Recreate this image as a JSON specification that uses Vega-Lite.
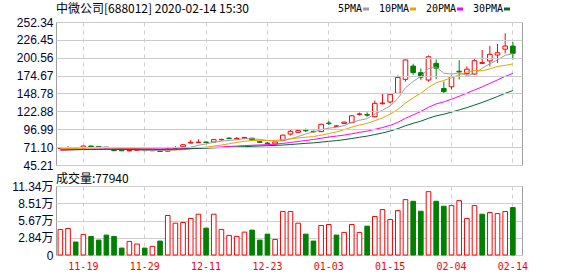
{
  "$schema": "https://vega.github.io/schema/vega-lite/v6.json",
  "autosize": {"type": "none"},
  "padding": {"left": 56, "top": 22, "right": 56, "bottom": 254},
  "background": "#ffffff",
  "spacing": 21,
  "bounds": "flush",
  "config": {
    "view": {"stroke": "#a0a0a0", "strokeWidth": 1},
    "axis": {"labelFont": "Liberation Sans, Noto Sans CJK SC", "labelFontSize": 12, "labelColor": "#000033", "domain": false, "ticks": false, "gridColor": "#cfcfcf", "gridWidth": 1, "labelOverlap": false}
  },
  "data": {"values": [
    {"d":"11-14","o":69.0,"h":70.8,"l":68.2,"c":69.6,"v":42000,"dir":"up","vdir":"up","5PMA":69.5,"10PMA":69.0,"20PMA":66.5,"30PMA":67.2},
    {"d":"11-15","o":69.2,"h":72.5,"l":68.8,"c":69.8,"v":43600,"dir":"up","vdir":"up","5PMA":69.6,"10PMA":69.2,"20PMA":67.0,"30PMA":67.3},
    {"d":"11-18","o":70.0,"h":71.0,"l":68.8,"c":69.3,"v":21300,"dir":"down","vdir":"down","5PMA":69.5,"10PMA":69.3,"20PMA":67.4,"30PMA":67.4},
    {"d":"11-19","o":69.8,"h":73.0,"l":69.5,"c":72.7,"v":33800,"dir":"up","vdir":"up","5PMA":70.2,"10PMA":69.5,"20PMA":67.8,"30PMA":67.5},
    {"d":"11-20","o":72.7,"h":73.2,"l":71.0,"c":71.5,"v":30500,"dir":"down","vdir":"down","5PMA":70.58,"10PMA":69.7,"20PMA":68.0,"30PMA":67.6},
    {"d":"11-21","o":72.0,"h":72.5,"l":71.0,"c":71.4,"v":24500,"dir":"down","vdir":"down","5PMA":70.94,"10PMA":69.9,"20PMA":68.2,"30PMA":67.7},
    {"d":"11-22","o":71.0,"h":71.5,"l":69.5,"c":70.0,"v":32700,"dir":"down","vdir":"down","5PMA":70.98,"10PMA":70.0,"20PMA":68.3,"30PMA":67.8},
    {"d":"11-25","o":67.2,"h":67.5,"l":65.5,"c":66.0,"v":30500,"dir":"down","vdir":"down","5PMA":70.32,"10PMA":69.8,"20PMA":68.3,"30PMA":67.8},
    {"d":"11-26","o":66.6,"h":67.0,"l":65.5,"c":65.8,"v":11400,"dir":"down","vdir":"down","5PMA":68.94,"10PMA":69.5,"20PMA":68.3,"30PMA":67.8},
    {"d":"11-27","o":65.6,"h":66.8,"l":65.2,"c":66.4,"v":22300,"dir":"up","vdir":"up","5PMA":67.92,"10PMA":69.25,"20PMA":68.3,"30PMA":67.8},
    {"d":"11-28","o":66.2,"h":67.2,"l":65.8,"c":66.8,"v":18000,"dir":"up","vdir":"up","5PMA":67.0,"10PMA":68.97,"20PMA":68.3,"30PMA":67.8},
    {"d":"11-29","o":66.8,"h":67.0,"l":65.8,"c":66.0,"v":11400,"dir":"down","vdir":"down","5PMA":66.2,"10PMA":68.59,"20PMA":68.3,"30PMA":67.8},
    {"d":"12-02","o":65.8,"h":66.8,"l":65.5,"c":66.3,"v":14200,"dir":"up","vdir":"up","5PMA":66.26,"10PMA":68.29,"20PMA":68.4,"30PMA":67.8},
    {"d":"12-03","o":65.8,"h":66.0,"l":64.0,"c":64.8,"v":22900,"dir":"down","vdir":"down","5PMA":66.06,"10PMA":67.5,"20PMA":68.4,"30PMA":67.8},
    {"d":"12-04","o":65.2,"h":71.5,"l":64.8,"c":68.0,"v":64900,"dir":"up","vdir":"up","5PMA":66.38,"10PMA":67.15,"20PMA":68.5,"30PMA":67.9},
    {"d":"12-05","o":69.6,"h":72.5,"l":68.0,"c":70.2,"v":52300,"dir":"up","vdir":"up","5PMA":67.06,"10PMA":67.03,"20PMA":68.6,"30PMA":68.1},
    {"d":"12-06","o":71.7,"h":75.0,"l":71.5,"c":74.6,"v":53400,"dir":"up","vdir":"up","5PMA":68.78,"10PMA":67.49,"20PMA":68.9,"30PMA":68.4},
    {"d":"12-09","o":77.0,"h":81.4,"l":76.6,"c":78.0,"v":60000,"dir":"up","vdir":"up","5PMA":71.12,"10PMA":68.69,"20PMA":69.3,"30PMA":68.8},
    {"d":"12-10","o":77.6,"h":82.4,"l":77.0,"c":78.2,"v":67000,"dir":"up","vdir":"up","5PMA":73.8,"10PMA":69.93,"20PMA":69.7,"30PMA":69.2},
    {"d":"12-11","o":78.5,"h":79.0,"l":77.0,"c":77.8,"v":44100,"dir":"down","vdir":"down","5PMA":75.76,"10PMA":71.07,"20PMA":70.16,"30PMA":69.6},
    {"d":"12-12","o":78.5,"h":83.0,"l":78.0,"c":82.0,"v":67000,"dir":"up","vdir":"up","5PMA":78.12,"10PMA":72.59,"20PMA":70.78,"30PMA":70.0},
    {"d":"12-13","o":81.8,"h":83.2,"l":80.5,"c":82.3,"v":42000,"dir":"up","vdir":"up","5PMA":79.66,"10PMA":74.22,"20PMA":71.41,"30PMA":70.4},
    {"d":"12-16","o":84.2,"h":85.0,"l":82.8,"c":83.6,"v":32200,"dir":"down","vdir":"up","5PMA":80.78,"10PMA":75.95,"20PMA":72.12,"30PMA":70.8},
    {"d":"12-17","o":83.2,"h":85.5,"l":82.0,"c":83.8,"v":30500,"dir":"up","vdir":"up","5PMA":81.9,"10PMA":77.85,"20PMA":72.68,"30PMA":71.3},
    {"d":"12-18","o":83.9,"h":85.8,"l":83.5,"c":85.2,"v":37600,"dir":"up","vdir":"up","5PMA":83.38,"10PMA":79.57,"20PMA":73.36,"30PMA":71.8},
    {"d":"12-19","o":84.0,"h":84.5,"l":80.5,"c":80.8,"v":40900,"dir":"down","vdir":"down","5PMA":83.14,"10PMA":80.63,"20PMA":73.83,"30PMA":72.3},
    {"d":"12-20","o":79.0,"h":79.5,"l":77.0,"c":78.0,"v":24500,"dir":"down","vdir":"down","5PMA":82.28,"10PMA":80.97,"20PMA":74.23,"30PMA":72.8},
    {"d":"12-23","o":77.0,"h":78.5,"l":75.5,"c":76.2,"v":34300,"dir":"down","vdir":"down","5PMA":80.8,"10PMA":80.79,"20PMA":74.74,"30PMA":73.2},
    {"d":"12-24","o":75.6,"h":79.0,"l":75.3,"c":78.5,"v":25600,"dir":"up","vdir":"up","5PMA":79.74,"10PMA":80.82,"20PMA":75.38,"30PMA":73.6},
    {"d":"12-25","o":80.5,"h":89.0,"l":80.0,"c":88.5,"v":71400,"dir":"up","vdir":"up","5PMA":80.4,"10PMA":81.89,"20PMA":76.48,"30PMA":74.07},
    {"d":"12-26","o":90.0,"h":96.0,"l":88.0,"c":94.0,"v":71400,"dir":"up","vdir":"up","5PMA":83.04,"10PMA":83.09,"20PMA":77.84,"30PMA":74.88},
    {"d":"12-27","o":92.5,"h":96.0,"l":92.0,"c":95.0,"v":52300,"dir":"up","vdir":"up","5PMA":86.44,"10PMA":84.36,"20PMA":79.29,"30PMA":75.72},
    {"d":"12-30","o":95.5,"h":98.0,"l":93.0,"c":94.8,"v":34300,"dir":"down","vdir":"down","5PMA":90.16,"10PMA":85.48,"20PMA":80.72,"30PMA":76.57},
    {"d":"12-31","o":94.0,"h":95.0,"l":92.0,"c":93.3,"v":22900,"dir":"down","vdir":"down","5PMA":93.12,"10PMA":86.43,"20PMA":82.14,"30PMA":77.26},
    {"d":"01-02","o":93.5,"h":105.0,"l":93.0,"c":104.2,"v":48500,"dir":"up","vdir":"up","5PMA":96.26,"10PMA":88.33,"20PMA":83.95,"30PMA":78.35},
    {"d":"01-03","o":106.0,"h":109.0,"l":103.0,"c":105.2,"v":50100,"dir":"down","vdir":"up","5PMA":98.5,"10PMA":90.77,"20PMA":85.7,"30PMA":79.48},
    {"d":"01-06","o":101.3,"h":103.0,"l":100.5,"c":101.8,"v":32700,"dir":"up","vdir":"down","5PMA":99.86,"10PMA":93.15,"20PMA":87.06,"30PMA":80.54},
    {"d":"01-07","o":105.5,"h":108.0,"l":105.0,"c":107.3,"v":37100,"dir":"up","vdir":"up","5PMA":102.36,"10PMA":96.26,"20PMA":88.53,"30PMA":81.91},
    {"d":"01-08","o":106.5,"h":117.5,"l":106.0,"c":116.5,"v":50100,"dir":"up","vdir":"up","5PMA":107.0,"10PMA":100.06,"20PMA":90.44,"30PMA":83.6},
    {"d":"01-09","o":118.5,"h":121.0,"l":117.0,"c":119.2,"v":37100,"dir":"up","vdir":"up","5PMA":110.0,"10PMA":103.13,"20PMA":92.51,"30PMA":85.36},
    {"d":"01-10","o":118.2,"h":121.5,"l":115.0,"c":117.4,"v":47400,"dir":"down","vdir":"down","5PMA":112.44,"10PMA":105.47,"20PMA":94.28,"30PMA":87.05},
    {"d":"01-13","o":115.2,"h":138.5,"l":114.5,"c":134.5,"v":63200,"dir":"up","vdir":"up","5PMA":118.98,"10PMA":109.42,"20PMA":96.89,"30PMA":89.33},
    {"d":"01-14","o":134.0,"h":149.0,"l":133.0,"c":135.0,"v":74700,"dir":"up","vdir":"up","5PMA":124.52,"10PMA":113.44,"20PMA":99.46,"30PMA":91.62},
    {"d":"01-15","o":136.5,"h":148.5,"l":135.0,"c":147.6,"v":58300,"dir":"up","vdir":"up","5PMA":130.74,"10PMA":118.87,"20PMA":102.65,"30PMA":94.38},
    {"d":"01-16","o":149.0,"h":175.0,"l":148.0,"c":172.0,"v":73000,"dir":"up","vdir":"up","5PMA":141.3,"10PMA":125.65,"20PMA":106.99,"30PMA":97.85},
    {"d":"01-17","o":169.3,"h":198.0,"l":166.0,"c":197.3,"v":91000,"dir":"up","vdir":"up","5PMA":157.28,"10PMA":134.86,"20PMA":112.82,"30PMA":102.09},
    {"d":"01-20","o":188.5,"h":192.0,"l":176.0,"c":179.0,"v":88300,"dir":"down","vdir":"down","5PMA":166.18,"10PMA":142.58,"20PMA":117.87,"30PMA":105.57},
    {"d":"01-21","o":179.0,"h":185.0,"l":168.0,"c":172.4,"v":71900,"dir":"down","vdir":"down","5PMA":173.66,"10PMA":149.09,"20PMA":122.68,"30PMA":108.71},
    {"d":"01-22","o":168.3,"h":204.0,"l":166.0,"c":202.0,"v":104100,"dir":"up","vdir":"up","5PMA":184.54,"10PMA":157.64,"20PMA":128.85,"30PMA":112.84},
    {"d":"01-23","o":192.5,"h":198.0,"l":169.5,"c":185.5,"v":88300,"dir":"down","vdir":"down","5PMA":187.24,"10PMA":164.27,"20PMA":133.7,"30PMA":116.43},
    {"d":"02-03","o":156.0,"h":166.0,"l":148.0,"c":151.5,"v":80100,"dir":"down","vdir":"down","5PMA":178.08,"10PMA":167.68,"20PMA":136.58,"30PMA":118.75},
    {"d":"02-04","o":158.5,"h":175.0,"l":155.0,"c":173.5,"v":81200,"dir":"up","vdir":"up","5PMA":176.98,"10PMA":171.58,"20PMA":140.5,"30PMA":121.79},
    {"d":"02-05","o":181.0,"h":197.0,"l":169.0,"c":180.0,"v":89400,"dir":"down","vdir":"up","5PMA":178.5,"10PMA":176.08,"20PMA":144.76,"30PMA":125.0},
    {"d":"02-06","o":177.5,"h":188.0,"l":176.0,"c":184.0,"v":60000,"dir":"up","vdir":"up","5PMA":174.9,"10PMA":179.72,"20PMA":149.3,"30PMA":128.34},
    {"d":"02-07","o":177.0,"h":198.5,"l":176.0,"c":196.3,"v":81200,"dir":"up","vdir":"up","5PMA":177.06,"10PMA":182.15,"20PMA":153.9,"30PMA":132.04},
    {"d":"02-10","o":192.5,"h":211.8,"l":191.5,"c":193.5,"v":67000,"dir":"up","vdir":"down","5PMA":185.46,"10PMA":181.77,"20PMA":158.32,"30PMA":135.8},
    {"d":"02-11","o":196.0,"h":218.0,"l":188.0,"c":205.5,"v":69800,"dir":"up","vdir":"up","5PMA":191.86,"10PMA":184.42,"20PMA":163.5,"30PMA":140.05},
    {"d":"02-12","o":204.5,"h":220.5,"l":193.0,"c":207.8,"v":68100,"dir":"up","vdir":"up","5PMA":197.42,"10PMA":187.96,"20PMA":168.53,"30PMA":144.44},
    {"d":"02-13","o":213.0,"h":236.0,"l":207.0,"c":217.5,"v":71400,"dir":"up","vdir":"up","5PMA":204.12,"10PMA":189.51,"20PMA":173.58,"30PMA":149.07},
    {"d":"02-14","o":217.5,"h":223.4,"l":197.8,"c":207.0,"v":77940,"dir":"down","vdir":"down","5PMA":206.26,"10PMA":191.66,"20PMA":177.97,"30PMA":153.02}
  ]},
  "vconcat": [
    {
      "width": 466,
      "height": 143,
      "title": {"text": "中微公司[688012] 2020-02-14 15:30", "anchor": "start", "frame": "group", "offset": 1, "dy": 1, "font": "Noto Sans CJK SC", "fontSize": 12, "fontWeight": "normal", "color": "#000000"},
      "resolve": {"axis": {"y": "independent"}},
      "encoding": {
        "x": {"field": "d", "type": "ordinal", "sort": null, "title": null,
          "scale": {"type": "band", "paddingInner": 0, "paddingOuter": 0.38, "align": 0.09},
          "axis": {"values": ["11-19","11-29","12-11","12-23","01-03","01-15","02-04","02-14"], "labels": false, "grid": true, "gridDash": [4,4], "gridColor": "#cfcfcf", "bandPosition": 0.5}}
      },
      "layer": [
        {
          "mark": {"type": "rule", "strokeWidth": 1},
          "encoding": {
            "y": {"field": "l", "type": "quantitative", "title": null, "scale": {"domain": [45.21, 252.34], "nice": false, "zero": false},
              "axis": {"values": [45.21, 71.10, 96.99, 122.88, 148.78, 174.67, 200.56, 226.45, 252.34], "format": ".2f", "grid": true, "gridColor": "#cccccc", "gridDash": [], "gridOpacity": 1, "zindex": 1, "labelPadding": 3, "labelOverlap": false}},
            "y2": {"field": "h"},
            "stroke": {"field": "dir", "type": "nominal", "scale": {"domain": ["up","down"], "range": ["#ff0000","#008000"]}, "legend": null}
          }
        },
        {
          "mark": {"type": "bar", "width": {"band": 0.6}, "strokeWidth": 1},
          "encoding": {
            "y": {"field": "o", "type": "quantitative", "title": null, "scale": {"domain": [45.21, 252.34], "nice": false, "zero": false}, "axis": null},
            "y2": {"field": "c"},
            "fill": {"field": "dir", "type": "nominal", "scale": {"domain": ["up","down"], "range": ["#ffffff","#008000"]}, "legend": null},
            "stroke": {"field": "dir", "type": "nominal", "legend": null}
          }
        },
        {
          "transform": [{"fold": ["5PMA","10PMA","20PMA","30PMA"], "as": ["ma","val"]}],
          "mark": {"type": "line", "strokeWidth": 1},
          "encoding": {
            "y": {"field": "val", "type": "quantitative", "title": null, "scale": {"domain": [45.21, 252.34], "nice": false, "zero": false}, "axis": null},
            "color": {"field": "ma", "type": "nominal",
              "scale": {"domain": ["5PMA","10PMA","20PMA","30PMA"], "range": ["#9d9d9d","#f0a000","#ff00ff","#006830"]},
              "legend": {"title": null, "orient": "none", "legendX": 305, "legendY": -18, "direction": "horizontal",
                "symbolType": "M-1,-0.5H1V0.5H-1Z", "symbolSize": 36, "symbolStrokeWidth": 0,
                "labelAlign": "right", "labelOffset": -9, "labelFont": "DejaVu Sans Mono", "labelFontSize": 10, "labelColor": "#000000", "columnPadding": 9,
                "encode": {"symbols": {"update": {"fill": {"scale": "color", "field": "value"}}}}}
            }
          }
        }
      ]
    },
    {
      "width": 466,
      "height": 69,
      "title": {"text": "成交量:77940", "anchor": "start", "frame": "group", "offset": 1, "dy": 7, "font": "Noto Sans CJK SC", "fontSize": 12, "fontWeight": "normal", "color": "#000000"},
      "mark": {"type": "bar", "width": {"band": 0.6}, "strokeWidth": 1},
      "encoding": {
        "x": {"field": "d", "type": "ordinal", "sort": null, "title": null,
          "scale": {"type": "band", "paddingInner": 0, "paddingOuter": 0.38, "align": 0.09},
          "axis": {"values": ["11-19","11-29","12-11","12-23","01-03","01-15","02-04","02-14"], "labelColor": "#ff0000", "labelFont": "DejaVu Sans Mono", "labelFontSize": 10, "labelAngle": 0, "labelPadding": 6, "grid": true, "gridDash": [4,4], "gridColor": "#cfcfcf", "bandPosition": 0.5}},
        "y": {"field": "v", "type": "quantitative", "title": null, "scale": {"domain": [0, 113400], "nice": false},
          "axis": {"values": [0, 28350, 56700, 85050, 113400], "labelExpr": "datum.value == 0 ? '0' : format(datum.value / 10000 + 0.0001, '.2f') + '万'", "grid": true, "gridColor": "#cfcfcf", "labelPadding": 3, "labelOverlap": false}},
        "fill": {"field": "vdir", "type": "nominal", "scale": {"domain": ["up","down"], "range": ["#ffffff","#008000"]}, "legend": null},
        "stroke": {"field": "vdir", "type": "nominal", "scale": {"domain": ["up","down"], "range": ["#ff0000","#008000"]}, "legend": null}
      }
    }
  ]
}
